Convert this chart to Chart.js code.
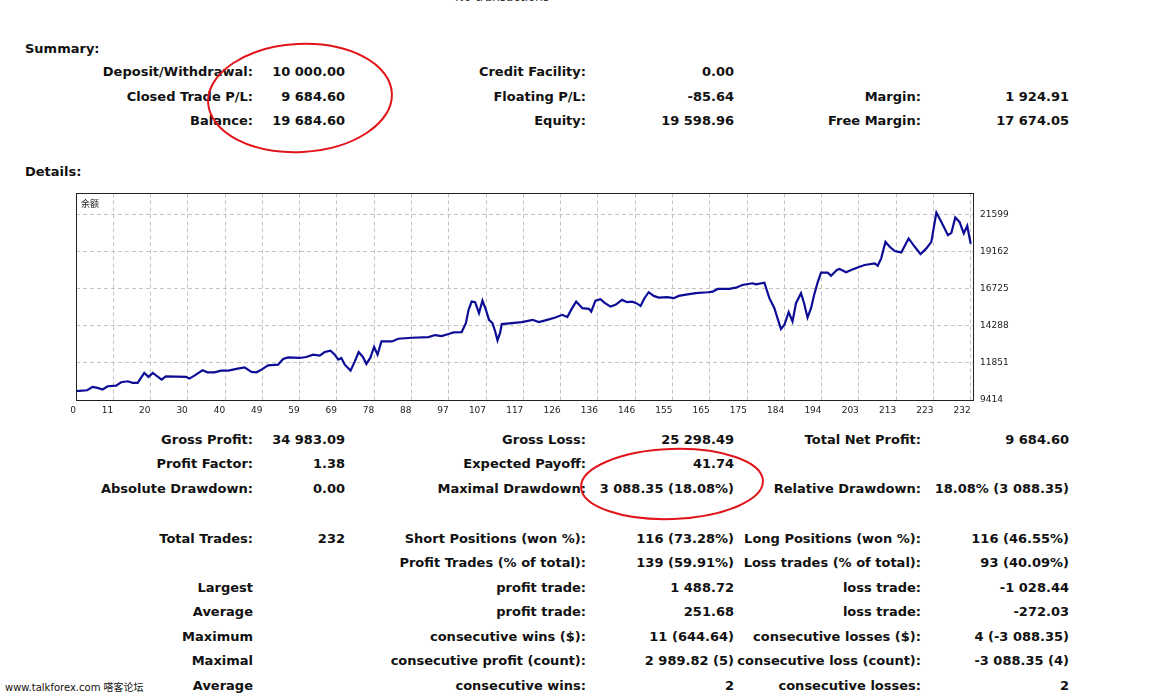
<!DOCTYPE html>
<html lang="en">
<head>
<meta charset="UTF-8">
<title>Details</title>
<style>
  body { margin: 0; background: #fff; width: 1154px; height: 698px; overflow: hidden; position: relative;
         font-family: "DejaVu Sans", sans-serif; color: #111; }
  .t { position: absolute; white-space: nowrap; font-size: 13px; line-height: 16px; font-weight: bold; }
  .r { text-align: right; width: 400px; }
  #chartBox { position: absolute; left: 60px; top: 181px; }
  #marks { position: absolute; left: 0; top: 0; pointer-events: none; }
</style>
<script src="https://cdn.jsdelivr.net/npm/chart.js@4"></script>
</head>
<body>
<div id="page"></div>
<div id="chartBox"><canvas id="balance" width="980" height="239"></canvas></div>
<svg id="marks" width="1154" height="698">
  <ellipse cx="300" cy="98" rx="92" ry="54" fill="none" stroke="#e0141a" stroke-width="2" transform="rotate(-3 300 98)"/>
  <ellipse cx="672" cy="484" rx="91" ry="35" fill="none" stroke="#e0141a" stroke-width="2" transform="rotate(-2 672 484)"/>
</svg>
<script>
// balance curve (trade number, balance)
const tradeNo = [0, 2.9, 4.3, 5.6, 6.9, 8.2, 10.4, 11.7, 13.4, 14.7, 16.0, 17.7, 18.8, 19.9, 22.2, 23.3,
  28.5, 29.4, 30.7, 32.8, 34.1, 35.9, 37.6, 39.5, 41.6, 43.7, 45.5, 46.8, 48.1, 49.8, 52.4, 53.7,
  55.0, 58.0, 59.7, 61.5, 63.2, 64.5, 66.0, 67.1, 68.0, 68.8, 69.7, 71.2, 72.3, 73.3, 74.4, 75.3,
  76.3, 77.3, 78.2, 79.2, 81.9, 83.6, 87.1, 91.4, 93.1, 94.8, 96.6, 97.9, 100.0, 101.1, 101.8, 102.6,
  103.5, 104.5, 105.4, 106.3, 107.1, 108.0, 108.7, 109.3, 110.0, 110.4, 113.0, 115.6, 118.4, 120.0,
  122.2, 124.3, 126.1, 127.4, 128.5, 129.7, 131.3, 133.0, 133.6, 134.7, 136.0, 137.0, 138.6, 139.9,
  141.6, 142.9, 144.2, 145.3, 146.4, 147.4, 148.5, 149.8, 151.1, 153.3, 155.0, 156.3, 157.8, 160.7,
  163.8, 165.1, 166.4, 169.4, 171.1, 172.8, 175.4, 176.3, 178.5, 179.8, 181.1, 181.9, 182.8, 183.7,
  184.8, 185.8, 186.7, 188.0, 188.8, 189.7, 190.6, 191.4, 192.3, 193.2, 194.9, 195.8, 197.3, 198.0,
  199.7, 201.0, 203.2, 204.5, 207.1, 207.9, 208.8, 209.9, 211.0, 212.3, 214.0, 215.9, 217.5, 219.0,
  220.5, 221.8, 223.1, 224.4, 226.1, 227.0, 228.0, 229.1, 230.2, 231.1, 232.0];
const balance = [10000, 10056, 10279, 10213, 10102, 10318, 10364, 10580, 10645, 10541, 10541, 11196, 10934, 11196, 10757, 10973,
  10934, 10822, 11019, 11366, 11235, 11235, 11346, 11346, 11458, 11562, 11261, 11235, 11412, 11693, 11739, 12113,
  12217, 12178, 12244, 12394, 12329, 12571, 12656, 12394, 12067, 12178, 11739, 11346, 11955, 12571, 12244, 11785,
  12178, 12899, 12394, 13265, 13265, 13442, 13508, 13554, 13685, 13619, 13750, 13855, 13881, 14471, 15342, 15885,
  15846, 15126, 15951, 15342, 14687, 14471, 13920, 13331, 13855, 14405, 14471, 14536, 14687, 14536,
  14687, 14837, 15014, 14864, 15388, 15885, 15453, 15407, 15230, 15951, 16043, 15820, 15558, 15669,
  15997, 15846, 15885, 15781, 15604, 16108, 16501, 16259, 16147, 16174, 16108, 16259, 16324, 16436,
  16501, 16540, 16717, 16717, 16802, 16979, 17091, 17025, 17130, 16108, 15453, 14798, 14078, 14359,
  15191, 14575, 15781, 16436, 15781, 14837, 15453, 16324, 17130, 17785, 17785, 17588, 17962, 18027,
  17811, 17962, 18178, 18289, 18401, 18243, 18728, 19815, 19488, 19206, 19121, 20038, 19488, 19010,
  19383, 19815, 21741, 21125, 20254, 20405, 21414, 21125, 20366, 20863, 19685];
const xTickLabels = ['0','11','20','30','40','49','59','69','78','88','97','107','117','126','136','146',
  '155','165','175','184','194','203','213','223','232'];
const yTicks = [9414, 11851, 14288, 16725, 19162, 21599];
const seriesName = '余额';

// report text: [centre y, col1 label, col1 value, col2 label, col2 value, col3 label, col3 value]
const summaryRows = [
  [72, 'Deposit/Withdrawal:', '10 000.00', 'Credit Facility:', '0.00', '', ''],
  [97, 'Closed Trade P/L:', '9 684.60', 'Floating P/L:', '-85.64', 'Margin:', '1 924.91'],
  [121, 'Balance:', '19 684.60', 'Equity:', '19 598.96', 'Free Margin:', '17 674.05']
];
const detailRows = [
  [440, 'Gross Profit:', '34 983.09', 'Gross Loss:', '25 298.49', 'Total Net Profit:', '9 684.60'],
  [464, 'Profit Factor:', '1.38', 'Expected Payoff:', '41.74', '', ''],
  [489, 'Absolute Drawdown:', '0.00', 'Maximal Drawdown:', '3 088.35 (18.08%)', 'Relative Drawdown:', '18.08% (3 088.35)'],
  [539, 'Total Trades:', '232', 'Short Positions (won %):', '116 (73.28%)', 'Long Positions (won %):', '116 (46.55%)'],
  [563, '', '', 'Profit Trades (% of total):', '139 (59.91%)', 'Loss trades (% of total):', '93 (40.09%)'],
  [588, 'Largest', '', 'profit trade:', '1 488.72', 'loss trade:', '-1 028.44'],
  [612, 'Average', '', 'profit trade:', '251.68', 'loss trade:', '-272.03'],
  [637, 'Maximum', '', 'consecutive wins ($):', '11 (644.64)', 'consecutive losses ($):', '4 (-3 088.35)'],
  [661, 'Maximal', '', 'consecutive profit (count):', '2 989.82 (5)', 'consecutive loss (count):', '-3 088.35 (4)'],
  [686, 'Average', '', 'consecutive wins:', '2', 'consecutive losses:', '2']
];
const colRight = [253, 345, 586, 734, 921, 1069];

const page = document.getElementById('page');
function put(text, x, cy, right, style) {
  if (!text) return;
  const d = document.createElement('div');
  d.className = 't' + (right ? ' r' : '');
  d.textContent = text;
  d.style.left = (right ? x - 400 : x) + 'px';
  d.style.top = (cy - 8) + 'px';
  if (style) Object.assign(d.style, style);
  page.appendChild(d);
}
put('No transactions', 455, -3, false, {fontWeight: 'normal', fontSize: '12px', color: '#333'});
put('Summary:', 25, 49);
put('Details:', 25, 172);
summaryRows.concat(detailRows).forEach(row => {
  for (let c = 1; c < row.length; c++) put(row[c], colRight[c - 1], row[0], true);
});
put('www.talkforex.com 嗒客论坛', 5, 688, false,
  {fontWeight: 'normal', fontSize: '10px', fontFamily: '"DejaVu Sans", "Noto Sans CJK SC", sans-serif'});

// frame and series name inside the plot
const frame = {
  id: 'frame',
  afterDraw(chart) {
    const a = chart.chartArea, ctx = chart.ctx;
    ctx.save();
    ctx.strokeStyle = '#222';
    ctx.lineWidth = 1;
    ctx.strokeRect(Math.round(a.left) + 0.5, Math.round(a.top) + 0.5,
                   Math.round(a.right - a.left), Math.round(a.bottom - a.top));
    ctx.fillStyle = '#222';
    ctx.font = '9px "Noto Sans CJK SC", sans-serif';
    ctx.textBaseline = 'middle';
    ctx.fillText(seriesName, a.left + 5, a.top + 10);
    ctx.restore();
  }
};

new Chart(document.getElementById('balance'), {
  type: 'line',
  data: {
    datasets: [{
      label: seriesName,
      data: tradeNo.map((x, i) => ({x: x, y: balance[i]})),
      borderColor: '#0c0c96',
      borderWidth: 2.2,
      pointRadius: 0,
      tension: 0
    }]
  },
  options: {
    responsive: false,
    animation: false,
    layout: { padding: { left: 16, top: 4, right: 0, bottom: 0 } },
    plugins: { legend: { display: false }, tooltip: { enabled: false } },
    scales: {
      x: {
        type: 'linear',
        min: 0, max: 232.6,
        afterBuildTicks: s => { s.ticks = xTickLabels.map((l, i) => ({value: i * 232 / 24})); },
        afterFit: s => { s.height = 20; },
        ticks: {
          autoSkip: false, maxRotation: 0, align: 'end', padding: 5,
          color: '#222', font: { family: 'DejaVu Sans', size: 9 },
          callback: (v, i) => xTickLabels[i]
        },
        grid: { color: '#c4c4c4', lineWidth: 1, drawTicks: false },
        border: { display: false, dash: [4, 3] }
      },
      y: {
        position: 'right',
        min: 9414, max: 23000,
        afterBuildTicks: s => { s.ticks = yTicks.map(v => ({value: v})); },
        afterFit: s => { s.width = 67; },
        ticks: {
          padding: 7, color: '#222', font: { family: 'DejaVu Sans', size: 9 },
          callback: v => String(v)
        },
        grid: { color: '#c4c4c4', lineWidth: 1, drawTicks: false },
        border: { display: false, dash: [4, 3] }
      }
    }
  },
  plugins: [frame]
});
</script>
</body>
</html>
